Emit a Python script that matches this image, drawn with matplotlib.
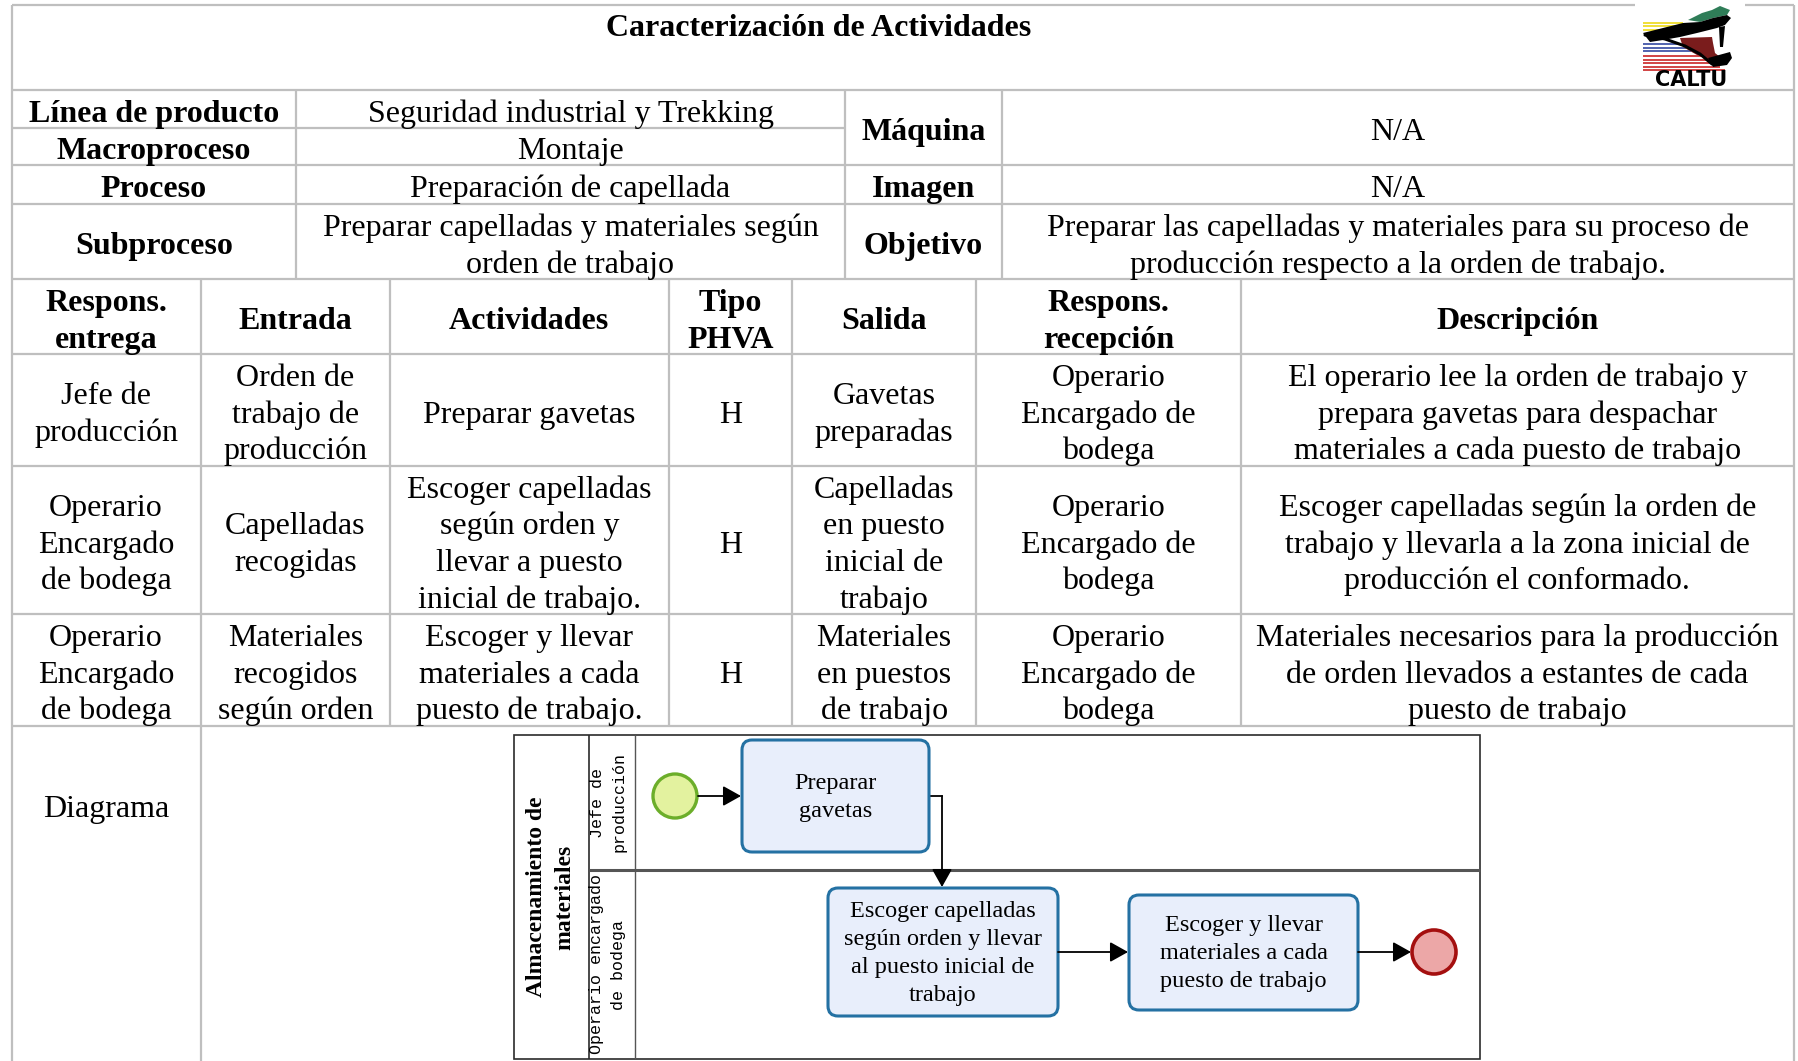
import matplotlib
matplotlib.use("Agg")
import matplotlib.pyplot as plt
from matplotlib.patches import FancyBboxPatch, Circle, Polygon, Rectangle

# ---------------- content ----------------
TITLE = "Caracterización de Actividades"
INFO_LABELS = ["Línea de producto", "Macroproceso", "Proceso", "Subproceso"]
INFO_VALUES = ["Seguridad industrial y Trekking", "Montaje",
               "Preparación de capellada",
               "Preparar capelladas y materiales según\norden de trabajo"]
SIDE_LABELS = ["Máquina", "Imagen", "Objetivo"]
SIDE_VALUES = ["N/A", "N/A",
               "Preparar las capelladas y materiales para su proceso de\n"
               "producción respecto a la orden de trabajo."]
HEADERS = ["Respons.\nentrega", "Entrada", "Actividades", "Tipo\nPHVA",
           "Salida", "Respons.\nrecepción", "Descripción"]
ROWS = [
    ["Jefe de\nproducción", "Orden de\ntrabajo de\nproducción", "Preparar gavetas", "H",
     "Gavetas\npreparadas", "Operario\nEncargado de\nbodega",
     "El operario lee la orden de trabajo y\nprepara gavetas para despachar\n"
     "materiales a cada puesto de trabajo"],
    ["Operario\nEncargado\nde bodega", "Capelladas\nrecogidas",
     "Escoger capelladas\nsegún orden y\nllevar a puesto\ninicial de trabajo.", "H",
     "Capelladas\nen puesto\ninicial de\ntrabajo", "Operario\nEncargado de\nbodega",
     "Escoger capelladas según la orden de\ntrabajo y llevarla a la zona inicial de\n"
     "producción el conformado."],
    ["Operario\nEncargado\nde bodega", "Materiales\nrecogidos\nsegún orden",
     "Escoger y llevar\nmateriales a cada\npuesto de trabajo.", "H",
     "Materiales\nen puestos\nde trabajo", "Operario\nEncargado de\nbodega",
     "Materiales necesarios para la producción\nde orden llevados a estantes de cada\n"
     "puesto de trabajo"],
]
DIAGRAM_LABEL = "Diagrama"
POOL_LABEL = "Almacenamiento de\nmateriales"
LANE_LABELS = ["Jefe de\nproducción", "Operario encargado\nde bodega"]
TASKS = ["Preparar\ngavetas",
         "Escoger capelladas\nsegún orden y llevar\nal puesto inicial de\ntrabajo",
         "Escoger y llevar\nmateriales a cada\npuesto de trabajo"]
LOGO_TEXT = "CALTU"

# ---------------- layout (pixels) ----------------
W, H = 1798, 1061
XL, XR = 11.5, 1794
Y_TOP, Y_TITLE = 5, 90
INFO_Y = [90, 128, 165, 204, 279]
INFO_X = [XL, 296, 845, 1002, XR]
ACT_X = [XL, 200.7, 390, 668.5, 792.4, 975.8, 1240.7, XR]
ACT_Y = [279, 354, 466, 614, 726, 1061]

SERIF = "Liberation Serif"
MONO = "Liberation Mono"
GRID = "#bfbfbf"
FS = 23

fig = plt.figure(figsize=(W / 100, H / 100), dpi=100)
ax = fig.add_axes([0, 0, 1, 1])
ax.set_xlim(0, W)
ax.set_ylim(H, 0)
ax.axis("off")


def put(x, yc, text, size=FS, weight="normal", family=SERIF, pitch=None, off=0.35):
    lines = text.split("\n")
    em = size * 100 / 72
    if pitch is None:
        pitch = 1.15 * em
    n = len(lines)
    for i, ln in enumerate(lines):
        y = yc + (i - (n - 1) / 2) * pitch
        ax.text(x, y + off * em, ln, ha="center", va="baseline", fontsize=size,
                fontweight=weight, family=family, color="black")


def vput(xs, yc, text, size, weight="normal", family=SERIF):
    for x, ln in zip(xs, text.split("\n")):
        ax.text(x, yc, ln, ha="center", va="center", rotation=90,
                rotation_mode="anchor", fontsize=size, fontweight=weight,
                family=family, color="black")


def hline(y, x0, x1, color=GRID, lw=1.6):
    ax.plot([x0, x1], [y, y], color=color, lw=lw, solid_capstyle="butt")


def vline(x, y0, y1, color=GRID, lw=1.6):
    ax.plot([x, x], [y0, y1], color=color, lw=lw, solid_capstyle="butt")


# ---------------- grid ----------------
hline(Y_TOP, XL, XR)
hline(Y_TITLE, XL, XR)
hline(INFO_Y[1], XL, INFO_X[2])
for y in INFO_Y[2:]:
    hline(y, XL, XR)
for x in INFO_X[1:-1]:
    vline(x, INFO_Y[0], INFO_Y[-1])
for y in ACT_Y[1:-1]:
    hline(y, XL, XR)
for x in ACT_X[1:-1]:
    vline(x, ACT_Y[0], ACT_Y[-2])
vline(ACT_X[1], ACT_Y[-2], ACT_Y[-1])
vline(XL, Y_TOP, H)
vline(XR, Y_TOP, H)

# ---------------- title ----------------
put(819, 25, TITLE, weight="bold")

# ---------------- info block ----------------
for i, (lab, val) in enumerate(zip(INFO_LABELS, INFO_VALUES)):
    yc = (INFO_Y[i] + INFO_Y[i + 1]) / 2 + 1.5
    put((INFO_X[0] + INFO_X[1]) / 2, yc, lab, weight="bold")
    put((INFO_X[1] + INFO_X[2]) / 2, yc, val)
side_spans = [(INFO_Y[0], INFO_Y[2]), (INFO_Y[2], INFO_Y[3]), (INFO_Y[3], INFO_Y[4])]
for (y0, y1), lab, val in zip(side_spans, SIDE_LABELS, SIDE_VALUES):
    yc = (y0 + y1) / 2 + 1.5
    put((INFO_X[2] + INFO_X[3]) / 2, yc, lab, weight="bold")
    put((INFO_X[3] + INFO_X[4]) / 2, yc, val)

# ---------------- activity table ----------------
for j, h in enumerate(HEADERS):
    put((ACT_X[j] + ACT_X[j + 1]) / 2, (ACT_Y[0] + ACT_Y[1]) / 2 + 1.5, h, weight="bold")
for i, row in enumerate(ROWS):
    yc = (ACT_Y[i + 1] + ACT_Y[i + 2]) / 2 + 1.5
    for j, cell in enumerate(row):
        put((ACT_X[j] + ACT_X[j + 1]) / 2, yc, cell)
put((ACT_X[0] + ACT_X[1]) / 2, 806, DIAGRAM_LABEL)

# ---------------- BPMN diagram ----------------
DX0, DX1, DY0, DY1 = 514, 1480, 735, 1059
POOL_X, LANE_X, LANE_Y = 589, 635, 870
DARK = "#2b2b2b"
ax.add_patch(Rectangle((DX0, DY0), DX1 - DX0, DY1 - DY0, fill=False,
                       edgecolor=DARK, lw=1.2))
vline(POOL_X, DY0, DY1, color=DARK, lw=1.2)
vline(LANE_X, DY0, DY1, color="#555555", lw=1.0)
hline(LANE_Y, POOL_X, DX1, color="#555555", lw=2.2)

vput([536, 565], (DY0 + DY1) / 2, POOL_LABEL, 17, weight="bold")
vput([597, 619], (DY0 + LANE_Y) / 2, LANE_LABELS[0], 12, family=MONO)
vput([596, 619], (LANE_Y + DY1) / 2, LANE_LABELS[1], 12, family=MONO)

BOX_FC, BOX_EC = "#e8eefb", "#2471a3"
boxes = [(742, 740, 929, 852), (828, 888, 1058, 1016), (1129, 895, 1358, 1010)]
for (x0, y0, x1, y1), txt in zip(boxes, TASKS):
    ax.add_patch(FancyBboxPatch((x0, y0), x1 - x0, y1 - y0,
                                boxstyle="round,pad=0,rounding_size=10",
                                facecolor=BOX_FC, edgecolor=BOX_EC, lw=2.2, zorder=3))
    put((x0 + x1) / 2, (y0 + y1) / 2, txt, size=17.5, pitch=28, off=0.28)

ax.add_patch(Circle((675, 796), 22, facecolor="#e3f29f", edgecolor="#6cae2a", lw=2.4, zorder=3))
ax.add_patch(Circle((1434, 952), 22, facecolor="#eca7a7", edgecolor="#a40f0f", lw=2.6, zorder=3))

AP = dict(arrowstyle="-|>,head_length=0.5,head_width=0.28", color="black", lw=1.3,
          mutation_scale=22, shrinkA=0, shrinkB=0)


def arrow(x0, y0, x1, y1):
    ax.annotate("", xy=(x1, y1), xytext=(x0, y0), arrowprops=AP, zorder=4)


arrow(698, 796, 741, 796)
ax.plot([929, 942], [796, 796], color="black", lw=1.3)
arrow(942, 796, 942, 887)
arrow(1058, 952, 1128, 952)
arrow(1358, 952, 1411, 952)

# ---------------- logo ----------------
ax.add_patch(Rectangle((1635, 1), 110, 87, facecolor="white", edgecolor="none", zorder=5))
for y in [21.5, 25, 28.5]:
    ax.add_patch(Rectangle((1643, y), 40, 2.3, facecolor="#f0df3c", edgecolor="none", zorder=6))
for k, y in enumerate([43, 46.5, 50]):
    ax.add_patch(Rectangle((1643, y), 38 + k * 5, 2.3, facecolor="#5566b0", edgecolor="none", zorder=6))
for k, y in enumerate([55, 58.5, 62, 65.5, 69]):
    ax.add_patch(Rectangle((1643, y), 62 + k * 5, 2.3, facecolor="#d24848", edgecolor="none", zorder=6))
# green upper
ax.add_patch(Polygon([(1688, 20), (1702, 13), (1712, 10), (1720, 6), (1730, 10), (1727, 15),
                      (1713, 18), (1700, 22)],
                     closed=True, facecolor="#2f7d58", edgecolor="none", zorder=7))
# black shoe body
ax.add_patch(Polygon([(1643, 33), (1663, 28), (1683, 23), (1700, 22), (1713, 18), (1727, 15),
                      (1731, 18), (1725, 25), (1717, 28), (1697, 33), (1680, 37), (1663, 40),
                      (1650, 42)],
                     closed=True, facecolor="black", edgecolor="none", zorder=7))
# heel
ax.add_patch(Polygon([(1719, 27), (1725, 26), (1723, 47), (1720, 47)],
                     closed=True, facecolor="black", edgecolor="none", zorder=7))
# sole line
ax.plot([1645, 1665, 1685, 1700, 1712], [35, 39, 46, 54, 64], color="black", lw=2.2,
        zorder=8, solid_capstyle="round")
# dark red block
ax.add_patch(Polygon([(1680, 38), (1712, 37), (1713, 43), (1715, 53), (1720, 57), (1710, 60),
                      (1697, 55), (1683, 47)],
                     closed=True, facecolor="#7a1c1c", edgecolor="none", zorder=7))
# toe
ax.add_patch(Polygon([(1708, 58), (1730, 52), (1732, 58), (1727, 65), (1713, 67)],
                     closed=True, facecolor="black", edgecolor="none", zorder=7))
ax.text(1691, 86, LOGO_TEXT, ha="center", va="baseline", fontsize=15,
        fontweight="bold", family="DejaVu Sans", zorder=8)

fig.savefig("out.png", dpi=100, facecolor="white")
